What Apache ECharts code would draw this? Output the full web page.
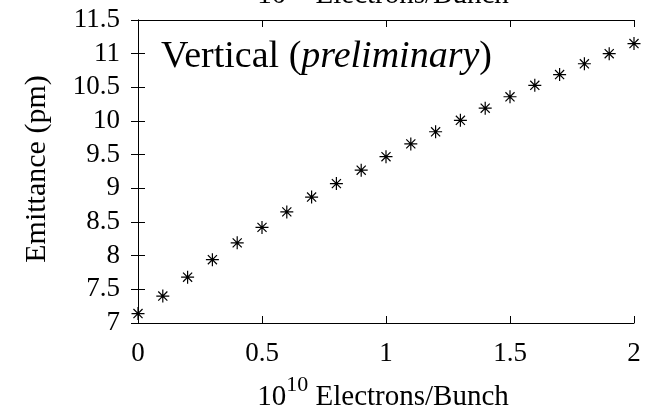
<!DOCTYPE html>
<html>
<head>
<meta charset="utf-8">
<script src="https://cdn.jsdelivr.net/npm/echarts@6/dist/echarts.min.js"></script>
<style>
  html, body { margin: 0; padding: 0; background: #fff; }
  #chart { width: 653px; height: 411px; }
</style>
</head>
<body>
<div id="chart"></div>
<script>
// 10^10 electrons per bunch
var bunchCharge = [0, 0.1, 0.2, 0.3, 0.4, 0.5, 0.6, 0.7, 0.8, 0.9, 1.0,
  1.1, 1.2, 1.3, 1.4, 1.5, 1.6, 1.7, 1.8, 1.9, 2.0];
// vertical emittance (pm)
var emittance = [7.14, 7.40, 7.68, 7.94, 8.19, 8.42, 8.65, 8.87, 9.07, 9.27, 9.47,
  9.66, 9.84, 10.01, 10.19, 10.36, 10.53, 10.69, 10.85, 11.00, 11.15];

var serif = 'Liberation Serif';
var asterisk = 'path://M0,6L12,6M6,0L6,12M1.8,1.8L10.2,10.2M1.8,10.2L10.2,1.8';
var xTitle = '{n|10}{s|10}{n| Electrons/Bunch}';

var chart = echarts.init(document.getElementById('chart'));

// superscript: small box pinned to the top of the line
var titleRich = {
  n: { fontFamily: serif, fontSize: 29, fill: '#000', lineHeight: 32 },
  s: { fontFamily: serif, fontSize: 22, fill: '#000', height: 8, lineHeight: 8, verticalAlign: 'top' }
};

var option = {
  animation: false,
  grid: { left: 138, right: 19, top: 20, bottom: 88 },
  xAxis: [
    {
      type: 'value', min: 0, max: 2, interval: 0.5, position: 'bottom',
      axisLine: { lineStyle: { color: '#000', width: 1 } },
      axisTick: { inside: true, length: 7, lineStyle: { color: '#000' } },
      axisLabel: { fontFamily: serif, fontSize: 27, color: '#000', margin: 17 },
      splitLine: { show: false }
    },
    {
      type: 'value', min: 0, max: 2, interval: 0.5, position: 'top',
      axisLine: { lineStyle: { color: '#000', width: 1 } },
      axisTick: { inside: true, length: 7, lineStyle: { color: '#000' } },
      axisLabel: { show: false },
      splitLine: { show: false }
    }
  ],
  yAxis: [
    {
      type: 'value', min: 7, max: 11.5, interval: 0.5, position: 'left',
      axisLine: { show: true, lineStyle: { color: '#000', width: 1 } },
      axisTick: { show: true, inside: true, length: 7, lineStyle: { color: '#000' } },
      axisLabel: { fontFamily: serif, fontSize: 27, color: '#000', margin: 18 },
      splitLine: { show: false }
    },
    {
      type: 'value', min: 7, max: 11.5, interval: 0.5, position: 'right',
      axisLine: { show: true, lineStyle: { color: '#000', width: 1 } },
      axisTick: { show: true, inside: true, length: 7, lineStyle: { color: '#000' } },
      axisLabel: { show: false },
      splitLine: { show: false }
    }
  ],
  graphic: [
    // plot label
    {
      type: 'text', left: 161, top: 38,
      style: {
        text: '{n|Vertical (}{i|preliminary}{n|)}',
        rich: {
          n: { fontFamily: serif, fontSize: 38, fill: '#000' },
          i: { fontFamily: serif, fontSize: 38, fontStyle: 'italic', fill: '#000' }
        }
      }
    },
    // x title, bottom
    {
      type: 'text', x: 383, y: 381,
      style: { text: xTitle, rich: titleRich, align: 'center', verticalAlign: 'top' }
    },
    // x title, top (cut by the page edge)
    {
      type: 'text', x: 383, y: 11,
      style: { text: xTitle, rich: titleRich, align: 'center', verticalAlign: 'bottom' }
    },
    // y title
    {
      type: 'text', x: 37, y: 169, rotation: Math.PI / 2,
      style: {
        text: 'Emittance (pm)', fontFamily: serif, fontSize: 30, fill: '#000',
        align: 'center', verticalAlign: 'middle'
      }
    }
  ],
  series: [
    {
      type: 'scatter',
      xAxisIndex: 0, yAxisIndex: 0,
      data: bunchCharge.map(function (x, i) { return [x, emittance[i]]; }),
      symbol: asterisk,
      symbolSize: 13,
      clip: false,
      itemStyle: { color: 'rgba(0,0,0,0)', borderColor: '#000', borderWidth: 1.2, opacity: 1 }
    }
  ]
};

chart.setOption(option);
</script>
</body>
</html>
